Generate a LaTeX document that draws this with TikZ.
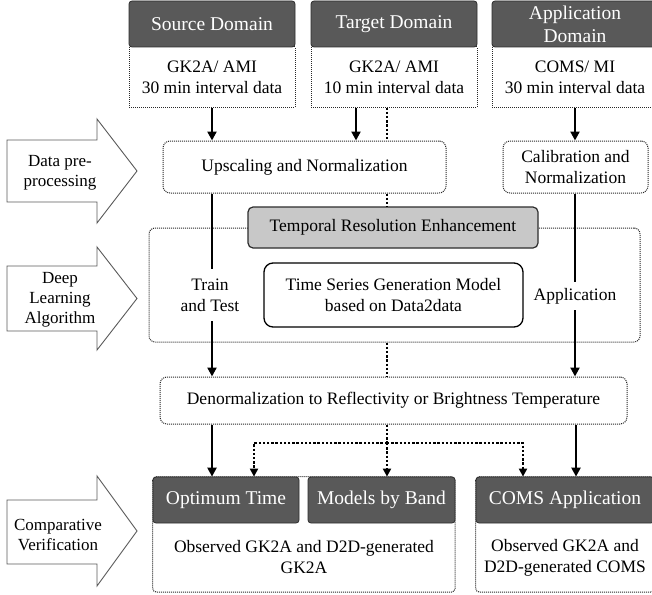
\documentclass[tikz,border=0pt]{standalone}
\usepackage{fontspec}
\setmainfont{Liberation Serif}
\usetikzlibrary{arrows.meta,backgrounds}
\definecolor{hdr}{RGB}{89,89,89}
\definecolor{hdrline}{RGB}{45,45,45}
\definecolor{lgray}{RGB}{200,200,200}
\definecolor{dotc}{RGB}{40,40,40}
\definecolor{arrc}{RGB}{90,90,90}
\begin{document}
\begin{tikzpicture}[x=1pt,y=-1pt,
  hdrbox/.style={draw=hdrline, line width=0.8pt, fill=hdr, rounded corners=3pt, text=white,
    font=\fontsize{19.5}{23}\selectfont, align=center, inner sep=0pt, minimum height=46pt},
  databox/.style={draw=dotc, line width=1pt, dash pattern=on 1pt off 1pt, fill=white,
    font=\fontsize{17.5}{21}\selectfont, align=center, inner sep=0pt},
  rdot/.style={databox, rounded corners=7pt},
  txt/.style={font=\fontsize{17.5}{21}\selectfont, align=center, inner sep=0pt},
  lbl/.style={font=\fontsize{17}{20}\selectfont, align=center, inner sep=0pt},
  blockarr/.style={draw=arrc, line width=0.9pt, fill=white, line join=miter},
  solidarrow/.style={line width=2.4pt, -{Triangle[length=9pt,width=9pt]}},
  solidline/.style={line width=2.4pt},
  dotline/.style={line width=2.4pt, dash pattern=on 2.4pt off 1.8pt},
  dotarrow/.style={dotline, -{Triangle[length=8pt,width=8pt]}}
]
\useasboundingbox (0,0) rectangle (652,594);
\clip (0,0) rectangle (652,594);

% left block arrows
\draw[blockarr] (7,140) -- (97,140) -- (97,119) -- (137,171) -- (97,223) -- (97,202) -- (7,202) -- cycle;
\node[lbl] (dlab) at (60,173) {Data pre-\\processing};
\draw[blockarr] (7,266) -- (97,266) -- (97,247) -- (137,298.5) -- (97,350) -- (97,331) -- (7,331) -- cycle;
\node[lbl] (deep) at (60,300) {Deep\\Learning\\Algorithm};
\draw[blockarr] (7,500) -- (97,500) -- (97,476) -- (137,531) -- (97,586) -- (97,564) -- (7,564) -- cycle;
\node[lbl] (comp) at (58,535) {Comparative\\Verification};

% top domain boxes
\node[databox, minimum width=166pt, minimum height=60pt] (srcD) at (212,77) {GK2A/ AMI\\30 min interval data};
\node[databox, minimum width=166pt, minimum height=60pt] (tgtD) at (394,77) {GK2A/ AMI\\10 min interval data};
\node[databox, minimum width=166pt, minimum height=60pt] (appD) at (575,77) {COMS/ MI\\30 min interval data};
\node[hdrbox, minimum width=166pt, minimum height=46pt] (srcH) at (212,24) {Source Domain};
\node[hdrbox, minimum width=166pt, minimum height=46pt] (tgtH) at (394,24) {Target Domain};
\node[hdrbox, minimum width=166pt, minimum height=46pt] (appH) at (575,24) {Application\\Domain};

% preprocessing
\node[rdot, minimum width=283pt, minimum height=52pt] (up) at (304.5,167) {Upscaling and Normalization};
\node[rdot, minimum width=145pt, minimum height=52pt] (cal) at (575.5,167) {Calibration and\\Normalization};

% deep learning block
\node[rdot, rounded corners=6pt, minimum width=491pt, minimum height=114pt] (big) at (394.5,285) {};
\node[draw=hdrline, line width=1.2pt, fill=lgray, rounded corners=5pt, txt,
      minimum width=290pt, minimum height=41pt] (tre) at (393,227.5) {Temporal Resolution Enhancement};
\node[draw=black, line width=1.3pt, fill=white, rounded corners=9pt, txt,
      minimum width=259pt, minimum height=64pt] (tsg) at (393.5,295) {Time Series Generation Model\\based on Data2data};
\node[txt, minimum height=52pt] (train) at (210,295) {Train\\and Test};
\node[txt, minimum height=28pt] (appl) at (575,296) {Application};

% denormalization
\node[rdot, minimum width=467pt, minimum height=47pt] (den) at (393.5,400.5) {Denormalization to Reflectivity or Brightness Temperature};

% bottom boxes
\node[txt, minimum width=302pt, minimum height=69pt] (resL) at (304,557.5) {Observed GK2A and D2D-generated\\GK2A};
\node[txt, minimum width=178pt, minimum height=69pt] (resR) at (565,557.5) {Observed GK2A and\\D2D-generated COMS};
\node[hdrbox, minimum width=146pt] (optH) at (226,500) {Optimum Time};
\node[hdrbox, minimum width=147pt] (modH) at (381.5,500) {Models by Band};
\node[hdrbox, minimum width=178pt] (comsH) at (565,500) {COMS Application};
\begin{scope}[on background layer]
  \draw[databox, rounded corners=4pt] (optH.north west) rectangle (resL.south east);
  \draw[databox, rounded corners=4pt] (comsH.north west) rectangle (resR.south east);
\end{scope}

% connectors
\coordinate (dx) at (387,0);
\draw[solidarrow] (srcD.south) -- (srcD.south |- up.north);
\draw[solidarrow] ([xshift=-38pt]tgtD.south) -- ([xshift=-38pt]tgtD.south |- up.north);
\draw[dotline] (dx |- tgtD.south) -- (dx |- up.north);
\draw[solidarrow] (appD.south) -- (appD.south |- cal.north);

\draw[dotline] (dx |- up.south) -- (dx |- tre.north);
\draw[solidline] (srcD.south |- up.south) -- (srcD.south |- train.north);
\draw[solidarrow] (srcD.south |- train.south) -- (srcD.south |- den.north);
\draw[solidline] (appD.south |- cal.south) -- (appD.south |- appl.north);
\draw[solidarrow] (appD.south |- appl.south) -- (appD.south |- den.north);
\draw[dotline] (dx |- big.south) -- (dx |- den.north);

\coordinate (j) at (387,443);
\draw[solidarrow] ([xshift=-14pt]optH.north |- den.south) -- ([xshift=-14pt]optH.north);
\draw[solidarrow] ([xshift=11pt]comsH.north |- den.south) -- ([xshift=11pt]comsH.north);
\draw[dotline] (j |- den.south) -- (j);
\draw[dotarrow] (j) -- (j |- modH.north);
\draw[dotarrow] (j) -| ([xshift=28pt]optH.north);
\draw[dotarrow] (j) -| ([xshift=-42pt]comsH.north);
\end{tikzpicture}
\end{document}
